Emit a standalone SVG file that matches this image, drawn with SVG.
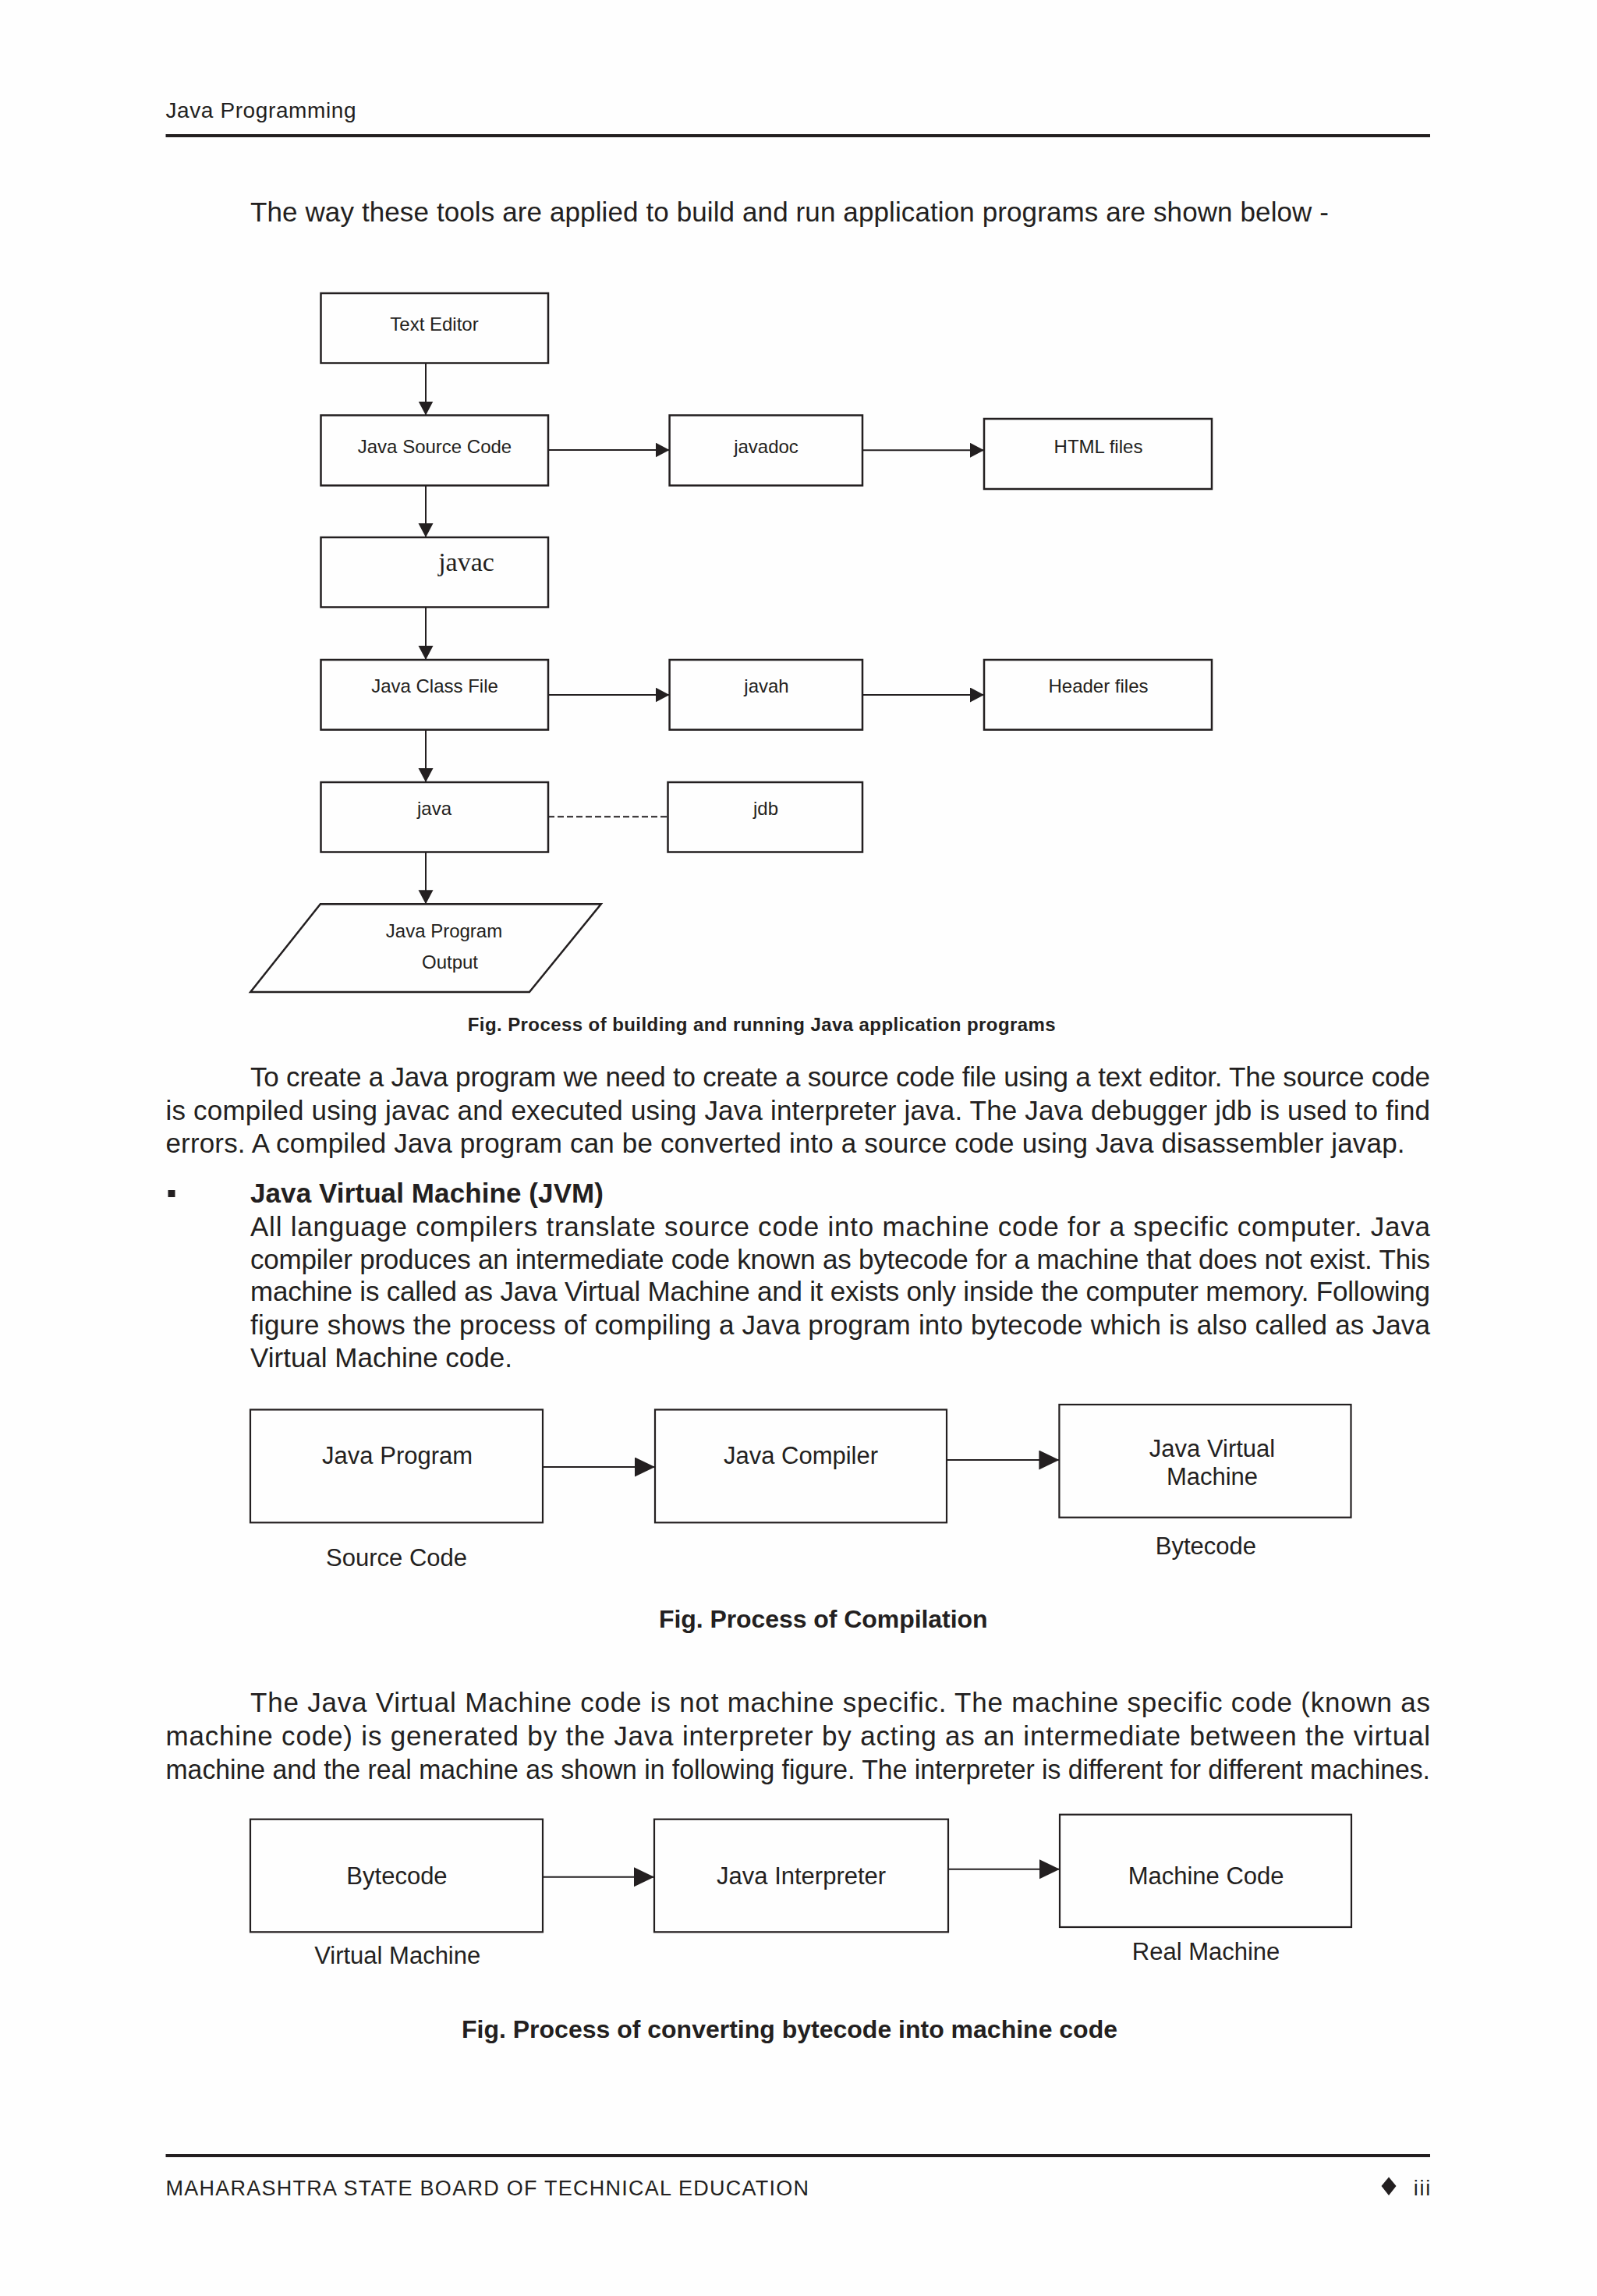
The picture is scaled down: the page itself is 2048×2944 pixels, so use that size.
<svg xmlns="http://www.w3.org/2000/svg" width="2048" height="2944" viewBox="0 0 2048 2944">
<style>
text{font-family:"Liberation Sans",Arial,sans-serif;fill:#231f20}
.body{font-size:35px}
.b{font-weight:bold}
.n1{font-size:24px;text-anchor:middle}
.n2{font-size:31px;text-anchor:middle}
.box{fill:none;stroke:#231f20;stroke-width:2.5}
.box2{fill:none;stroke:#231f20;stroke-width:2.2}
.ln{fill:none;stroke:#231f20;stroke-width:2}
.rule{stroke:#231f20;stroke-width:4}
</style>
<defs>
<marker id="ah" markerUnits="userSpaceOnUse" markerWidth="19" markerHeight="20" refX="18" refY="9.5" orient="auto">
<path d="M0,0 L18,9.5 L0,19 z" fill="#231f20"/>
</marker>
<marker id="ah2" markerUnits="userSpaceOnUse" markerWidth="27" markerHeight="26" refX="26" refY="12.5" orient="auto">
<path d="M0,0 L26,12.5 L0,25 z" fill="#231f20"/>
</marker>
</defs>
<rect width="2048" height="2944" fill="#fefefe"/>

<g id="page-header">
<text x="212.5" y="150.7" font-size="28" textLength="244">Java Programming</text>
<line class="rule" x1="212.5" y1="174" x2="1834" y2="174"/>
</g>

<text class="body" x="321" y="284" textLength="1383">The way these tools are applied to build and run application programs are shown below -</text>

<g id="connectors">
<line class="ln" x1="546" y1="465.5" x2="546" y2="532.5" marker-end="url(#ah)"/>
<line class="ln" x1="546" y1="622.5" x2="546" y2="689" marker-end="url(#ah)"/>
<line class="ln" x1="546" y1="778.5" x2="546" y2="846" marker-end="url(#ah)"/>
<line class="ln" x1="546" y1="935.7" x2="546" y2="1003" marker-end="url(#ah)"/>
<line class="ln" x1="546" y1="1092.5" x2="546" y2="1159.3" marker-end="url(#ah)"/>
<line class="ln" x1="703" y1="577" x2="858.6" y2="577" marker-end="url(#ah)"/>
<line class="ln" x1="1106" y1="577.3" x2="1262" y2="577.3" marker-end="url(#ah)"/>
<line class="ln" x1="703" y1="891" x2="858.6" y2="891" marker-end="url(#ah)"/>
<line class="ln" x1="1106" y1="891" x2="1262" y2="891" marker-end="url(#ah)"/>
<line class="ln" x1="703" y1="1047.3" x2="856.5" y2="1047.3" stroke-dasharray="8,4"/>
<line class="ln" x1="696" y1="1881" x2="840" y2="1881" marker-end="url(#ah2)"/>
<line class="ln" x1="1214" y1="1872" x2="1358.4" y2="1872" marker-end="url(#ah2)"/>
<line class="ln" x1="696" y1="2406.7" x2="839" y2="2406.7" marker-end="url(#ah2)"/>
<line class="ln" x1="1216" y1="2396.7" x2="1359" y2="2396.7" marker-end="url(#ah2)"/>
</g>

<g id="text-editor">
<rect class="box" x="411.5" y="376" width="291.5" height="89.5"/>
<text class="n1" x="557" y="424">Text Editor</text>
</g>
<g id="java-source-code">
<rect class="box" x="411.5" y="532.5" width="291.5" height="90"/>
<text class="n1" x="557.5" y="580.7">Java Source Code</text>
</g>
<g id="javadoc">
<rect class="box" x="858.6" y="532.5" width="247.4" height="90"/>
<text class="n1" x="982.5" y="580.5">javadoc</text>
</g>
<g id="html-files">
<rect class="box" x="1262" y="537" width="292" height="90"/>
<text class="n1" x="1408.5" y="580.5">HTML files</text>
</g>
<g id="javac">
<rect class="box" x="411.5" y="689" width="291.5" height="89.5"/>
<text x="598" y="731.7" font-size="34" text-anchor="middle" style="font-family:'Liberation Serif','Times New Roman',serif">javac</text>
</g>
<g id="java-class-file">
<rect class="box" x="411.5" y="846" width="291.5" height="89.7"/>
<text class="n1" x="557.5" y="888.3">Java Class File</text>
</g>
<g id="javah">
<rect class="box" x="858.6" y="846" width="247.4" height="89.7"/>
<text class="n1" x="983" y="888.3">javah</text>
</g>
<g id="header-files">
<rect class="box" x="1262" y="846" width="292" height="89.7"/>
<text class="n1" x="1408.5" y="888.3">Header files</text>
</g>
<g id="java">
<rect class="box" x="411.5" y="1003" width="291.5" height="89.5"/>
<text class="n1" x="557" y="1045">java</text>
</g>
<g id="jdb">
<rect class="box" x="856.5" y="1003" width="249.5" height="89.5"/>
<text class="n1" x="982" y="1045">jdb</text>
</g>
<g id="java-program-output">
<polygon class="box" points="410.8,1159.3 770.7,1159.3 678.9,1272 321.2,1272"/>
<text class="n1" x="569.5" y="1201.7">Java Program</text>
<text class="n1" x="577" y="1241.7">Output</text>
</g>

<text class="b" x="599.7" y="1321.7" font-size="24" textLength="754">Fig. Process of building and running Java application programs</text>

<g id="paragraph-1">
<text class="body" x="321" y="1393.3" textLength="1513">To create a Java program we need to create a source code file using a text editor. The source code</text>
<text class="body" x="212.5" y="1436" textLength="1621.5">is compiled using javac and executed using Java interpreter java. The Java debugger jdb is used to find</text>
<text class="body" x="212.5" y="1478.3" textLength="1589">errors. A compiled Java program can be converted into a source code using Java disassembler javap.</text>
</g>

<rect x="215.5" y="1526" width="9" height="9" fill="#231f20"/>
<text class="b" x="321" y="1542" font-size="35" textLength="453">Java Virtual Machine (JVM)</text>

<g id="paragraph-2">
<text class="body" x="321" y="1585" textLength="1513">All language compilers translate source code into machine code for a specific computer. Java</text>
<text class="body" x="321" y="1626.7" textLength="1513">compiler produces an intermediate code known as bytecode for a machine that does not exist. This</text>
<text class="body" x="321" y="1668.3" textLength="1513">machine is called as Java Virtual Machine and it exists only inside the computer memory. Following</text>
<text class="body" x="321" y="1711" textLength="1513">figure shows the process of compiling a Java program into bytecode which is also called as Java</text>
<text class="body" x="321" y="1753.3" textLength="336">Virtual Machine code.</text>
</g>

<g id="java-program">
<rect class="box2" x="321" y="1807.5" width="375" height="144.8"/>
<text class="n2" x="509.6" y="1876.7">Java Program</text>
</g>
<g id="java-compiler">
<rect class="box2" x="840" y="1807.5" width="374" height="144.8"/>
<text class="n2" x="1027" y="1876.7">Java Compiler</text>
</g>
<g id="jvm">
<rect class="box2" x="1358.4" y="1801" width="374.1" height="144.7"/>
<text class="n2" x="1554.5" y="1868.3">Java Virtual</text>
<text class="n2" x="1554.5" y="1904">Machine</text>
</g>
<text class="n2" x="508.6" y="2007.7">Source Code</text>
<text class="n2" x="1546.4" y="1993.3">Bytecode</text>
<text class="b" x="845" y="2087" font-size="32" textLength="421.5">Fig. Process of Compilation</text>

<g id="paragraph-3">
<text class="body" x="321" y="2195" textLength="1513">The Java Virtual Machine code is not machine specific. The machine specific code (known as</text>
<text class="body" x="212.5" y="2238.3" textLength="1621.5">machine code) is generated by the Java interpreter by acting as an intermediate between the virtual</text>
<text class="body" x="212.5" y="2280.7" textLength="1621.5" lengthAdjust="spacingAndGlyphs">machine and the real machine as shown in following figure. The interpreter is different for different machines.</text>
</g>

<g id="bytecode">
<rect class="box2" x="321" y="2332.7" width="375" height="144.6"/>
<text class="n2" x="509" y="2416">Bytecode</text>
</g>
<g id="java-interpreter">
<rect class="box2" x="839" y="2332.7" width="377" height="144.6"/>
<text class="n2" x="1027.6" y="2416">Java Interpreter</text>
</g>
<g id="machine-code">
<rect class="box2" x="1359" y="2326.7" width="374" height="144.3"/>
<text class="n2" x="1546.6" y="2416">Machine Code</text>
</g>
<text class="n2" x="509.7" y="2517.7">Virtual Machine</text>
<text class="n2" x="1546.6" y="2512.7">Real Machine</text>
<text class="b" x="592" y="2612.7" font-size="32" textLength="841">Fig. Process of converting bytecode into machine code</text>

<g id="page-footer">
<line class="rule" x1="212.5" y1="2764" x2="1834" y2="2764"/>
<text x="212.5" y="2815" font-size="27" textLength="824.5">MAHARASHTRA STATE BOARD OF TECHNICAL EDUCATION</text>
<polygon points="1781,2791.5 1790.5,2803 1781,2815 1771.5,2803" fill="#231f20"/>
<text x="1812.7" y="2815" font-size="27" textLength="21.6">iii</text>
</g>
</svg>
